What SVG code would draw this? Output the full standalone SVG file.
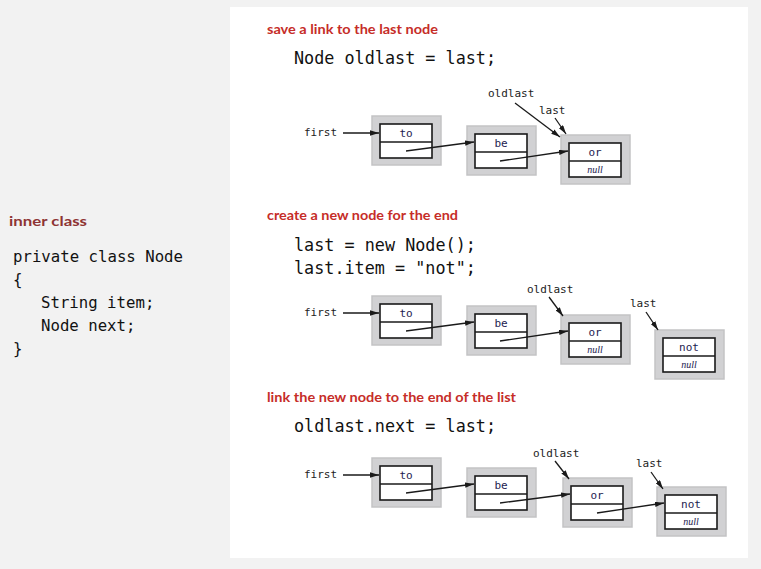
<svg xmlns="http://www.w3.org/2000/svg" width="761" height="569" viewBox="0 0 761 569">
<style>
.shell{fill:#d1d1d3;stroke:#c3c3c5;stroke-width:1.5}
.cell{fill:#fff;stroke:#1a1a1a;stroke-width:1.6}
.val{font-family:"DejaVu Sans Mono",monospace;font-size:11px;fill:#1d2150;text-anchor:middle}
.nul{font-family:"Liberation Serif",serif;font-style:italic;font-size:10px;fill:#1d2150;text-anchor:middle}
.lbl{font-family:"DejaVu Sans Mono",monospace;font-size:11px;fill:#222}
.code{font-family:"DejaVu Sans Mono",monospace;font-size:16.8px;fill:#111}
.lcode{font-family:"DejaVu Sans Mono",monospace;font-size:15.7px;fill:#111}
.head{font-family:Lato,"Liberation Sans",sans-serif;font-weight:bold;font-size:13.5px;fill:#c62d28}
.ihead{font-family:Lato,"Liberation Sans",sans-serif;font-weight:bold;font-size:14px;fill:#8e3434}
.ptr{stroke:#1a1a1a;stroke-width:1.3;fill:none;marker-end:url(#ah)}
</style>
<defs>
<marker id="ah" viewBox="0 0 10 6" refX="10" refY="3" markerWidth="9" markerHeight="5.4" markerUnits="userSpaceOnUse" orient="auto"><path d="M0,0 L10,3 L0,6 z" fill="#1a1a1a"/></marker>
</defs>
<rect width="761" height="569" fill="#f2f2f2"/>
<rect x="230" y="7" width="518" height="551" fill="#fff"/>

<g id="left-code">
<text class="ihead" x="9" y="226" textLength="78" lengthAdjust="spacingAndGlyphs">inner class</text>
<text class="lcode" x="13" y="262">private class Node</text>
<text class="lcode" x="13" y="285">{</text>
<text class="lcode" x="41" y="308">String item;</text>
<text class="lcode" x="41" y="331">Node next;</text>
<text class="lcode" x="13" y="354">}</text>
</g>

<g id="headings">
<text class="head" x="267" y="34" textLength="171" lengthAdjust="spacingAndGlyphs">save a link to the last node</text>
<text class="code" x="294" y="64">Node oldlast = last;</text>
<text class="head" x="267" y="220" textLength="191" lengthAdjust="spacingAndGlyphs">create a new node for the end</text>
<text class="code" x="294" y="251">last = new Node();</text>
<text class="code" x="294" y="274">last.item = "not";</text>
<text class="head" x="267" y="402" textLength="249" lengthAdjust="spacingAndGlyphs">link the new node to the end of the list</text>
<text class="code" x="294" y="432">oldlast.next = last;</text>
</g>

<!-- section 1 -->
<g id="s1-to" transform="translate(372,116)"><rect class="shell" width="69" height="49"/><rect class="cell" x="8" y="8" width="52" height="34"/><line class="cell" x1="8" y1="26" x2="60" y2="26"/><text class="val" x="34" y="21">to</text></g>
<g id="s1-be" transform="translate(467,126)"><rect class="shell" width="69" height="49"/><rect class="cell" x="8" y="8" width="52" height="34"/><line class="cell" x1="8" y1="26" x2="60" y2="26"/><text class="val" x="34" y="21">be</text></g>
<g id="s1-or" transform="translate(561,135)"><rect class="shell" width="69" height="49"/><rect class="cell" x="8" y="8" width="52" height="34"/><line class="cell" x1="8" y1="26" x2="60" y2="26"/><text class="val" x="34" y="21">or</text><text class="nul" x="34" y="38">null</text></g>
<g id="s1-labels">
<text class="lbl" x="304" y="136">first</text>
<text class="lbl" x="488" y="97">oldlast</text>
<text class="lbl" x="539" y="114">last</text>
</g>

<!-- section 2 -->
<g id="s2-to" transform="translate(372,296)"><rect class="shell" width="69" height="49"/><rect class="cell" x="8" y="8" width="52" height="34"/><line class="cell" x1="8" y1="26" x2="60" y2="26"/><text class="val" x="34" y="21">to</text></g>
<g id="s2-be" transform="translate(467,306)"><rect class="shell" width="69" height="49"/><rect class="cell" x="8" y="8" width="52" height="34"/><line class="cell" x1="8" y1="26" x2="60" y2="26"/><text class="val" x="34" y="21">be</text></g>
<g id="s2-or" transform="translate(561,315)"><rect class="shell" width="69" height="49"/><rect class="cell" x="8" y="8" width="52" height="34"/><line class="cell" x1="8" y1="26" x2="60" y2="26"/><text class="val" x="34" y="21">or</text><text class="nul" x="34" y="38">null</text></g>
<g id="s2-not" transform="translate(655,330)"><rect class="shell" width="69" height="49"/><rect class="cell" x="8" y="8" width="52" height="34"/><line class="cell" x1="8" y1="26" x2="60" y2="26"/><text class="val" x="34" y="21">not</text><text class="nul" x="34" y="38">null</text></g>
<g id="s2-labels">
<text class="lbl" x="304" y="316">first</text>
<text class="lbl" x="527" y="293">oldlast</text>
<text class="lbl" x="630" y="307">last</text>
</g>

<!-- section 3 -->
<g id="s3-to" transform="translate(372,458)"><rect class="shell" width="69" height="49"/><rect class="cell" x="8" y="8" width="52" height="34"/><line class="cell" x1="8" y1="26" x2="60" y2="26"/><text class="val" x="34" y="21">to</text></g>
<g id="s3-be" transform="translate(467,468)"><rect class="shell" width="69" height="49"/><rect class="cell" x="8" y="8" width="52" height="34"/><line class="cell" x1="8" y1="26" x2="60" y2="26"/><text class="val" x="34" y="21">be</text></g>
<g id="s3-or" transform="translate(563,478)"><rect class="shell" width="69" height="49"/><rect class="cell" x="8" y="8" width="52" height="34"/><line class="cell" x1="8" y1="26" x2="60" y2="26"/><text class="val" x="34" y="21">or</text></g>
<g id="s3-not" transform="translate(657,487)"><rect class="shell" width="69" height="49"/><rect class="cell" x="8" y="8" width="52" height="34"/><line class="cell" x1="8" y1="26" x2="60" y2="26"/><text class="val" x="34" y="21">not</text><text class="nul" x="34" y="38">null</text></g>
<g id="s3-labels">
<text class="lbl" x="304" y="478">first</text>
<text class="lbl" x="533" y="457">oldlast</text>
<text class="lbl" x="636" y="467">last</text>
</g>

<g id="connectors">
<line class="ptr" x1="343" y1="133" x2="379" y2="133"/>
<line class="ptr" x1="406" y1="151" x2="474" y2="142"/>
<line class="ptr" x1="500" y1="161" x2="568" y2="151"/>
<line class="ptr" x1="515" y1="103" x2="560" y2="137"/>
<line class="ptr" x1="555" y1="118" x2="566" y2="134"/>

<line class="ptr" x1="343" y1="313" x2="379" y2="313"/>
<line class="ptr" x1="406" y1="331" x2="474" y2="322"/>
<line class="ptr" x1="500" y1="341" x2="568" y2="331"/>
<line class="ptr" x1="549" y1="297" x2="563" y2="316"/>
<line class="ptr" x1="646" y1="312" x2="658" y2="330"/>

<line class="ptr" x1="343" y1="475" x2="379" y2="475"/>
<line class="ptr" x1="406" y1="493" x2="474" y2="484"/>
<line class="ptr" x1="500" y1="503" x2="570" y2="494"/>
<line class="ptr" x1="597" y1="513" x2="664" y2="503"/>
<line class="ptr" x1="555" y1="461" x2="569" y2="479"/>
<line class="ptr" x1="651" y1="472" x2="663" y2="489"/>
</g>
</svg>
